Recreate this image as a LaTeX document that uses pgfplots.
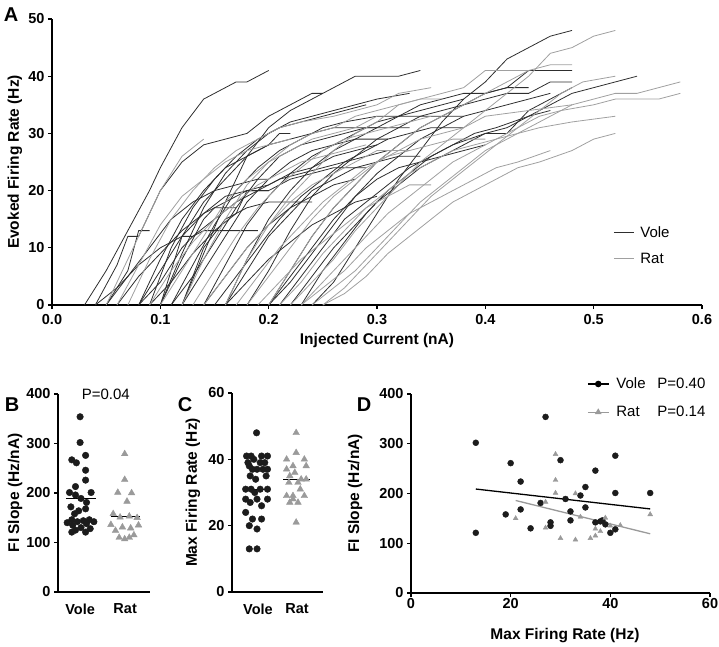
\documentclass[border=0pt]{standalone}
\usepackage{fontspec}
\setmainfont{Liberation Sans}
\usepackage{pgfplots}
\pgfplotsset{compat=1.18}
\definecolor{vole}{HTML}{2E2E2E}
\definecolor{rat}{HTML}{A0A0A0}
\definecolor{ratm}{HTML}{9A9A9A}
\definecolor{dot}{HTML}{1C1C1C}

\pgfplotsset{
  panel/.style={
    scale only axis, axis lines=left, axis line style={line width=1.3pt, -},
    tick style={line width=1.1pt, black}, tick align=outside, major tick length=4pt,
    ticklabel style={font=\fontsize{14.5}{16}\selectfont\bfseries},
    label style={font=\fontsize{15.5}{17}\selectfont\bfseries},
    /pgf/number format/assume math mode=true,
    clip=false,
  },
  vc/.style={vole, line width=0.8pt, forget plot},
  rc/.style={rat, line width=0.8pt, forget plot},
}

\begin{document}
\begin{tikzpicture}
\path[use as bounding box] (0pt,0pt) rectangle (719pt,646pt);

% ---------- A ----------
\begin{axis}[panel, at={(52pt,341pt)}, anchor=south west, width=650pt, height=286pt,
  xmin=0, xmax=0.6, ymin=0, ymax=50,
  xtick={0,0.1,...,0.6}, ytick={0,10,...,50},
  xticklabel style={yshift=-2pt, /pgf/number format/.cd, fixed, fixed zerofill, precision=1},
  xlabel={Injected Current (nA)}, ylabel={Evoked Firing Rate (Hz)},
  xlabel style={at={(axis description cs:0.5,-0.125)}, anchor=center},
  ylabel style={at={(axis description cs:-0.057,0.5)}, anchor=center},
  legend style={draw=none, fill=none, inner sep=0pt, row sep=10pt,
    font=\fontsize{15}{17}\selectfont, at={(axis cs:0.518,14.1)}, anchor=north west},
  legend cell align=left,
  legend image code/.code={\draw[#1] (0pt,0pt) -- (20pt,0pt);},
]
% vole curves
\addplot[vc] coordinates {(0.03,0)(0.05,6)(0.07,13)(0.09,20)(0.1,24)(0.12,31)(0.14,36)(0.16,38)(0.17,39)(0.18,39)(0.2,41)};
\addplot[vc] coordinates {(0.04,0)(0.06,7)(0.07,12)(0.08,12)(0.09,16)(0.1,20)(0.12,25)(0.14,28)(0.16,29)(0.18,30)(0.2,33)(0.22,35)(0.24,37)(0.25,37)};
\addplot[vc] coordinates {(0.05,0)(0.07,6)(0.08,13)(0.09,13)};
\addplot[vc] coordinates {(0.08,0)(0.1,4)(0.12,10)(0.13,12)(0.14,13)(0.19,13)};
\addplot[vc] coordinates {(0.12,0)(0.14,9)(0.16,18)(0.18,26)(0.2,31)(0.22,34)(0.24,36)(0.26,38)(0.28,40)(0.32,40)(0.34,41)};
\addplot[vc] coordinates {(0.24,0)(0.26,4)(0.28,10)(0.3,16)(0.32,22)(0.34,27)(0.36,32)(0.38,36)(0.4,39)(0.42,43)(0.44,45)(0.46,47)(0.48,48)};
\addplot[vc] coordinates {(0.2,0)(0.22,6)(0.24,12)(0.26,17)(0.28,21)(0.3,25)(0.32,28)(0.34,31)(0.36,33)(0.38,35)(0.4,37)(0.42,38)(0.44,41)(0.48,41)};
\addplot[vc] coordinates {(0.22,0)(0.24,5)(0.26,10)(0.28,14)(0.3,18)(0.32,21)(0.34,24)(0.36,26)(0.38,28)(0.4,30)(0.42,31)(0.44,33)(0.46,35)(0.48,37)(0.5,38)(0.52,39)(0.54,40)};
\addplot[vc] coordinates {(0.18,0)(0.2,6)(0.22,13)(0.24,19)(0.26,23)(0.28,26)(0.3,29)(0.32,31)(0.34,33)(0.36,34)(0.38,35)(0.4,36)(0.42,37)(0.44,37)(0.46,39)(0.48,39)};
\addplot[vc] coordinates {(0.21,0)(0.23,5)(0.25,10)(0.27,15)(0.29,18)(0.31,21)(0.33,24)(0.35,26)(0.37,28)(0.4,30)(0.42,30)(0.44,34)(0.46,36)(0.48,38)};
\addplot[vc] coordinates {(0.16,0)(0.18,8)(0.2,15)(0.22,20)(0.24,24)(0.26,27)(0.28,29)(0.3,31)(0.32,33)(0.34,35)(0.36,36)(0.38,37)(0.4,37)(0.42,38)(0.44,38)};
\addplot[vc] coordinates {(0.1,0)(0.12,9)(0.14,17)(0.16,23)(0.18,27)(0.2,30)(0.22,32)(0.24,33)(0.26,34)(0.28,35)(0.3,36)(0.33,37)};
\addplot[vc] coordinates {(0.2,0)(0.22,4)(0.24,9)(0.26,14)(0.28,19)(0.3,23)(0.32,26)(0.34,29)(0.36,31)(0.38,33)(0.4,34)(0.42,35)(0.44,36)(0.46,37)};
\addplot[vc] coordinates {(0.14,0)(0.16,7)(0.18,14)(0.2,19)(0.22,23)(0.24,26)(0.26,28)(0.28,30)(0.3,32)(0.32,33)(0.34,34)(0.36,35)(0.38,36)};
\addplot[vc] coordinates {(0.09,0)(0.11,10)(0.13,17)(0.15,22)(0.17,26)(0.19,29)(0.21,31)(0.23,32)(0.25,33)(0.27,34)(0.29,35)};
\addplot[vc] coordinates {(0.11,0)(0.13,7)(0.15,14)(0.17,20)(0.19,24)(0.21,27)(0.23,29)(0.25,31)(0.27,32)(0.3,33)(0.33,33)(0.38,33)};
\addplot[vc] coordinates {(0.23,0)(0.25,6)(0.27,11)(0.29,16)(0.31,20)(0.33,23)(0.35,26)(0.37,28)(0.39,30)(0.41,31)(0.44,33)(0.46,34)};
\addplot[vc] coordinates {(0.08,0)(0.1,8)(0.12,15)(0.14,20)(0.16,24)(0.18,26)(0.2,28)(0.22,29)(0.24,30)(0.26,31)(0.3,31)};
\addplot[vc] coordinates {(0.11,0)(0.13,5)(0.15,11)(0.17,17)(0.19,22)(0.21,26)(0.23,28)(0.25,29)(0.27,30)(0.29,31)(0.33,31)};
\addplot[vc] coordinates {(0.15,0)(0.17,5)(0.19,10)(0.21,15)(0.23,19)(0.25,22)(0.27,25)(0.29,27)(0.31,29)(0.33,30)(0.35,31)(0.38,31)};
\addplot[vc] coordinates {(0.08,0)(0.1,6)(0.12,12)(0.14,18)(0.16,22)(0.18,26)(0.2,28)(0.21,30)(0.22,30)};
\addplot[vc] coordinates {(0.12,0)(0.14,6)(0.16,12)(0.18,18)(0.2,22)(0.22,25)(0.24,27)(0.26,28)(0.28,29)(0.31,29)};
\addplot[vc] coordinates {(0.2,0)(0.22,5)(0.24,10)(0.26,15)(0.28,19)(0.3,22)(0.32,24)(0.34,25)(0.36,26)(0.38,27)(0.4,28)};
\addplot[vc] coordinates {(0.04,0)(0.06,3)(0.08,7)(0.1,10)(0.12,12)(0.14,16)(0.16,18)(0.18,20)(0.2,21)(0.22,23)(0.24,24)(0.26,26)(0.28,27)(0.3,28)};
\addplot[vc] coordinates {(0.1,0)(0.11,6)(0.12,12)(0.13,12)(0.15,15)(0.17,18)(0.19,20)(0.21,22)(0.23,23)(0.25,24)(0.27,25)(0.29,26)(0.31,27)};
\addplot[vc] coordinates {(0.16,0)(0.18,6)(0.2,12)(0.22,16)(0.24,20)(0.26,22)(0.28,24)(0.3,25)(0.32,26)(0.34,26)};
\addplot[vc] coordinates {(0.06,0)(0.08,5)(0.1,9)(0.12,13)(0.14,16)(0.16,19)(0.18,20)(0.2,20)(0.22,22)(0.24,23)(0.26,24)(0.29,24)};
\addplot[vc] coordinates {(0.14,0)(0.16,5)(0.18,10)(0.2,14)(0.22,17)(0.24,19)(0.26,21)(0.28,22)};
\addplot[vc] coordinates {(0.05,0)(0.07,5)(0.09,10)(0.11,15)(0.13,18)(0.15,20)(0.17,21)(0.19,22)(0.2,22)};
\addplot[vc] coordinates {(0.09,0)(0.11,4)(0.13,9)(0.15,13)(0.17,16)(0.18,20)(0.2,20)};
\addplot[vc] coordinates {(0.16,0)(0.18,4)(0.2,8)(0.22,11)(0.24,14)(0.26,16)(0.28,18)(0.3,19)};
\addplot[vc] coordinates {(0.1,0)(0.12,8)(0.14,15)(0.15,17)(0.17,17)};
\addplot[vc] coordinates {(0.12,0)(0.14,10)(0.16,15)(0.18,17)(0.2,18)(0.24,18)};
% rat curves
\addplot[rc] coordinates {(0.22,0)(0.24,4)(0.26,8)(0.28,13)(0.3,17)(0.32,21)(0.34,25)(0.36,28)(0.38,31)(0.4,34)(0.42,37)(0.44,40)(0.46,44)(0.48,45)(0.5,47)(0.52,48)};
\addplot[rc] coordinates {(0.2,0)(0.22,6)(0.24,12)(0.26,17)(0.28,21)(0.3,25)(0.32,28)(0.34,31)(0.36,33)(0.38,35)(0.4,37)(0.42,39)(0.44,41)(0.46,42)(0.48,42)};
\addplot[rc] coordinates {(0.25,0)(0.27,3)(0.29,7)(0.31,11)(0.33,15)(0.35,19)(0.37,22)(0.39,25)(0.41,28)(0.43,31)(0.45,34)(0.47,37)(0.49,39)(0.52,40)};
\addplot[rc] coordinates {(0.16,0)(0.18,8)(0.2,14)(0.22,19)(0.24,23)(0.26,27)(0.28,30)(0.3,32)(0.32,35)(0.34,36)(0.36,37)(0.38,38)(0.4,41)(0.44,41)};
\addplot[rc] coordinates {(0.24,0)(0.26,3)(0.28,6)(0.3,10)(0.32,14)(0.34,18)(0.36,21)(0.38,24)(0.4,27)(0.42,29)(0.44,31)(0.46,33)(0.48,35)(0.5,36)(0.52,37)(0.54,37)(0.56,38)(0.58,39)};
\addplot[rc] coordinates {(0.07,0)(0.09,8)(0.11,15)(0.13,20)(0.15,24)(0.17,27)(0.19,29)(0.21,31)(0.23,32)(0.26,33)(0.3,35)(0.32,37)(0.35,38)};
\addplot[rc] coordinates {(0.23,0)(0.25,4)(0.27,8)(0.29,12)(0.31,16)(0.33,19)(0.35,22)(0.37,25)(0.39,27)(0.41,29)(0.43,31)(0.45,33)(0.47,34)(0.5,35)(0.52,36)(0.56,36)(0.58,37)};
\addplot[rc] coordinates {(0.12,0)(0.14,8)(0.16,15)(0.18,21)(0.2,25)(0.22,28)(0.24,30)(0.26,31)(0.28,33)(0.3,34)(0.32,35)(0.34,36)(0.36,36)};
\addplot[rc] coordinates {(0.18,0)(0.2,5)(0.22,10)(0.24,15)(0.26,19)(0.28,22)(0.3,25)(0.32,27)(0.34,29)(0.36,30)(0.38,31)(0.4,33)(0.44,34)(0.48,35)};
\addplot[rc] coordinates {(0.05,0)(0.07,8)(0.09,16)(0.1,20)(0.12,26)(0.14,29)};
\addplot[rc] coordinates {(0.21,0)(0.23,4)(0.25,9)(0.27,13)(0.29,17)(0.31,20)(0.33,23)(0.35,25)(0.37,27)(0.39,28)(0.41,29)(0.43,30)(0.45,31)(0.48,32)(0.52,33)};
\addplot[rc] coordinates {(0.13,0)(0.15,6)(0.17,12)(0.19,17)(0.21,21)(0.23,24)(0.25,27)(0.27,29)(0.29,30)(0.31,31)(0.33,32)(0.35,33)};
\addplot[rc] coordinates {(0.1,0)(0.12,6)(0.14,12)(0.16,18)(0.18,22)(0.2,25)(0.22,27)(0.24,29)(0.26,30)(0.28,31)(0.3,33)};
\addplot[rc] coordinates {(0.25,0)(0.27,2)(0.29,5)(0.31,9)(0.33,12)(0.35,15)(0.37,18)(0.39,20)(0.41,22)(0.43,24)(0.45,25)(0.48,27)(0.5,29)(0.52,30)};
\addplot[rc] coordinates {(0.17,0)(0.19,5)(0.21,10)(0.23,14)(0.25,18)(0.27,21)(0.29,24)(0.31,26)(0.33,27)(0.35,28)(0.37,29)(0.4,29)};
\addplot[rc] coordinates {(0.09,0)(0.11,6)(0.13,11)(0.15,15)(0.17,18)(0.19,21)(0.21,23)(0.23,25)(0.25,26)(0.27,27)(0.29,28)};
\addplot[rc] coordinates {(0.23,0)(0.25,3)(0.27,6)(0.29,10)(0.31,13)(0.33,16)(0.35,18)(0.37,20)(0.39,22)(0.41,24)(0.43,25)(0.46,27)};
\addplot[rc] coordinates {(0.14,0)(0.16,5)(0.18,10)(0.2,14)(0.22,18)(0.24,21)(0.26,23)(0.28,25)(0.3,27)(0.33,27)};
\addplot[rc] coordinates {(0.19,0)(0.21,4)(0.23,8)(0.25,11)(0.27,14)(0.29,17)(0.31,19)(0.33,21)(0.35,21)};
\addplot[rc] coordinates {(0.06,0)(0.08,7)(0.1,14)(0.12,19)(0.14,22)(0.16,25)(0.18,27)(0.2,28)(0.22,29)};
\addlegendimage{vole, line width=1pt}\addlegendentry{\hspace{4pt}Vole}
\addlegendimage{rat, line width=1pt}\addlegendentry{\hspace{4pt}Rat}
\end{axis}

% ---------- B ----------
\begin{axis}[panel, at={(58pt,54pt)}, anchor=south west, width=92pt, height=198pt,
  xmin=0, xmax=2, ymin=0, ymax=400, ytick={0,100,...,400},
  xtick={0.48,1.46}, xticklabels={Vole,Rat}, xtick style={draw=none},
  xticklabel style={yshift=-4pt},
  ylabel={FI Slope (Hz/nA)},
  ylabel style={at={(axis description cs:-0.467,0.5)}, anchor=center},
]
\addplot[only marks, mark=*, mark size=3.3pt, dot] coordinates {
(0.48,354)(0.48,302)(0.6,276)(0.3,267)(0.4,261)(0.6,246)(0.6,226)(0.38,213)
(0.25,201)(0.72,201)(0.38,196)(0.5,189)(0.62,181)(0.28,172)(0.6,168)(0.45,164)
(0.36,158)(0.3,146)(0.68,146)(0.55,144)(0.42,142)(0.78,142)(0.2,140)(0.62,138)
(0.32,135)(0.5,130)(0.7,128)(0.38,125)(0.3,121)(0.6,121)};
\addplot[only marks, mark=triangle*, mark size=3.8pt, ratm] coordinates {
(1.45,279)(1.45,227)(1.3,201)(1.6,200)(1.5,183)(1.2,158)(1.55,153)(1.35,151)
(1.72,150)(1.15,136)(1.75,135)(1.4,131)(1.58,129)(1.25,124)(1.65,115)(1.33,110)
(1.55,110)(1.45,107)};
\addplot[black, line width=1.3pt] coordinates {(0.17,189)(0.83,189)};
\addplot[black, line width=1.3pt] coordinates {(1.15,153)(1.78,153)};
\node[font=\fontsize{15}{17}\selectfont] at (axis cs:1.04,400) {P=0.04};
\end{axis}

% ---------- C ----------
\begin{axis}[panel, at={(232pt,54pt)}, anchor=south west, width=91pt, height=199pt,
  xmin=0, xmax=2, ymin=0, ymax=60, ytick={0,20,...,60},
  xtick={0.57,1.43}, xticklabels={Vole,Rat}, xtick style={draw=none},
  xticklabel style={yshift=-4pt},
  ylabel={Max Firing Rate (Hz)},
  ylabel style={at={(axis description cs:-0.43,0.5)}, anchor=center},
]
\addplot[only marks, mark=*, mark size=3.3pt, dot] coordinates {
(0.54,48)(0.32,41)(0.42,41)(0.65,41)(0.78,41)(0.35,39)(0.48,40)(0.62,39)(0.72,39)
(0.38,38)(0.55,37)(0.68,37)(0.78,37)(0.45,37)(0.4,35)(0.75,35)(0.52,34)
(0.3,31)(0.42,31)(0.62,31)(0.78,31)(0.5,30)(0.3,28)(0.55,28)(0.78,28)
(0.4,27)(0.65,26)(0.3,24)(0.45,22)(0.65,22)(0.38,20)(0.55,19)(0.38,13)(0.55,13)};
\addplot[only marks, mark=triangle*, mark size=3.8pt, ratm] coordinates {
(1.41,48)(1.41,42)(1.2,40)(1.59,40)(1.34,38)(1.63,38)(1.2,37)(1.38,36)(1.27,35)
(1.52,34)(1.63,34)(1.25,33)(1.45,33)(1.5,31)(1.2,29)(1.59,29)(1.34,29)(1.34,28)
(1.27,27)(1.45,27)(1.41,21)};
\addplot[black, line width=1.3pt] coordinates {(0.24,31)(0.84,31)};
\addplot[black, line width=1.3pt] coordinates {(1.13,34)(1.71,34)};
\end{axis}

% ---------- D ----------
\begin{axis}[panel, at={(411pt,53pt)}, anchor=south west, width=299pt, height=199pt,
  xmin=0, xmax=60, ymin=0, ymax=400, xtick={0,20,...,60}, ytick={0,100,...,400},
  xticklabel style={yshift=2pt},
  xlabel={Max Firing Rate (Hz)}, ylabel={FI Slope (Hz/nA)},
  xlabel style={at={(axis description cs:0.515,-0.215)}, anchor=center},
  ylabel style={at={(axis description cs:-0.187,0.5)}, anchor=center},
  legend style={draw=none, fill=none, inner sep=0pt, row sep=12pt,
    font=\fontsize{15}{17}\selectfont, at={(axis cs:35.3,437)}, anchor=north west},
  legend cell align=left,
  legend image code/.code={\draw[mark repeat=2,mark phase=2,#1] plot coordinates {(0pt,0pt) (10.5pt,0pt) (21pt,0pt)};},
]
\addplot[only marks, mark=*, mark size=3pt, dot, forget plot] coordinates {
(13,302)(13,121)(20,261)(19,158)(22,224)(22,168)(24,130)(27,354)(26,181)
(28,142)(28,135)(30,267)(31,189)(32,164)(32,146)(34,196)(35,213)(35,172)
(37,246)(37,142)(38,144)(38.4,146)(39,138)(40,121)(41,276)(41,201)(41,128)(48,201)};
\addplot[only marks, mark=triangle*, mark size=2.8pt, ratm, forget plot] coordinates {
(21,150)(27,183)(27,131)(29,279)(29,227)(29,201)(30,110)(33,200)(33,107)
(34,153)(36,110)(37,115)(37,129)(38,124)(39,151)(40,135)(42,136)(48,158)};
\addplot[black, line width=1.3pt, forget plot] coordinates {(13,209)(48,169)};
\addplot[ratm, line width=1.3pt, forget plot] coordinates {(21,186)(48,119)};
\addlegendimage{black, line width=1.3pt, mark=*, mark size=2.6pt}
\addlegendentry{\hspace{5pt}\makebox[41pt][l]{Vole}P=0.40}
\addlegendimage{ratm, line width=1.3pt, mark=triangle*, mark size=2.6pt}
\addlegendentry{\hspace{5pt}\makebox[41pt][l]{Rat}P=0.14}
\end{axis}

% panel letters
\node[font=\fontsize{20}{20}\selectfont\bfseries] at (11pt,631pt) {A};
\node[font=\fontsize{20}{20}\selectfont\bfseries] at (12pt,241pt) {B};
\node[font=\fontsize{20}{20}\selectfont\bfseries] at (185pt,241pt) {C};
\node[font=\fontsize{20}{20}\selectfont\bfseries] at (364pt,241pt) {D};
\end{tikzpicture}
\end{document}
